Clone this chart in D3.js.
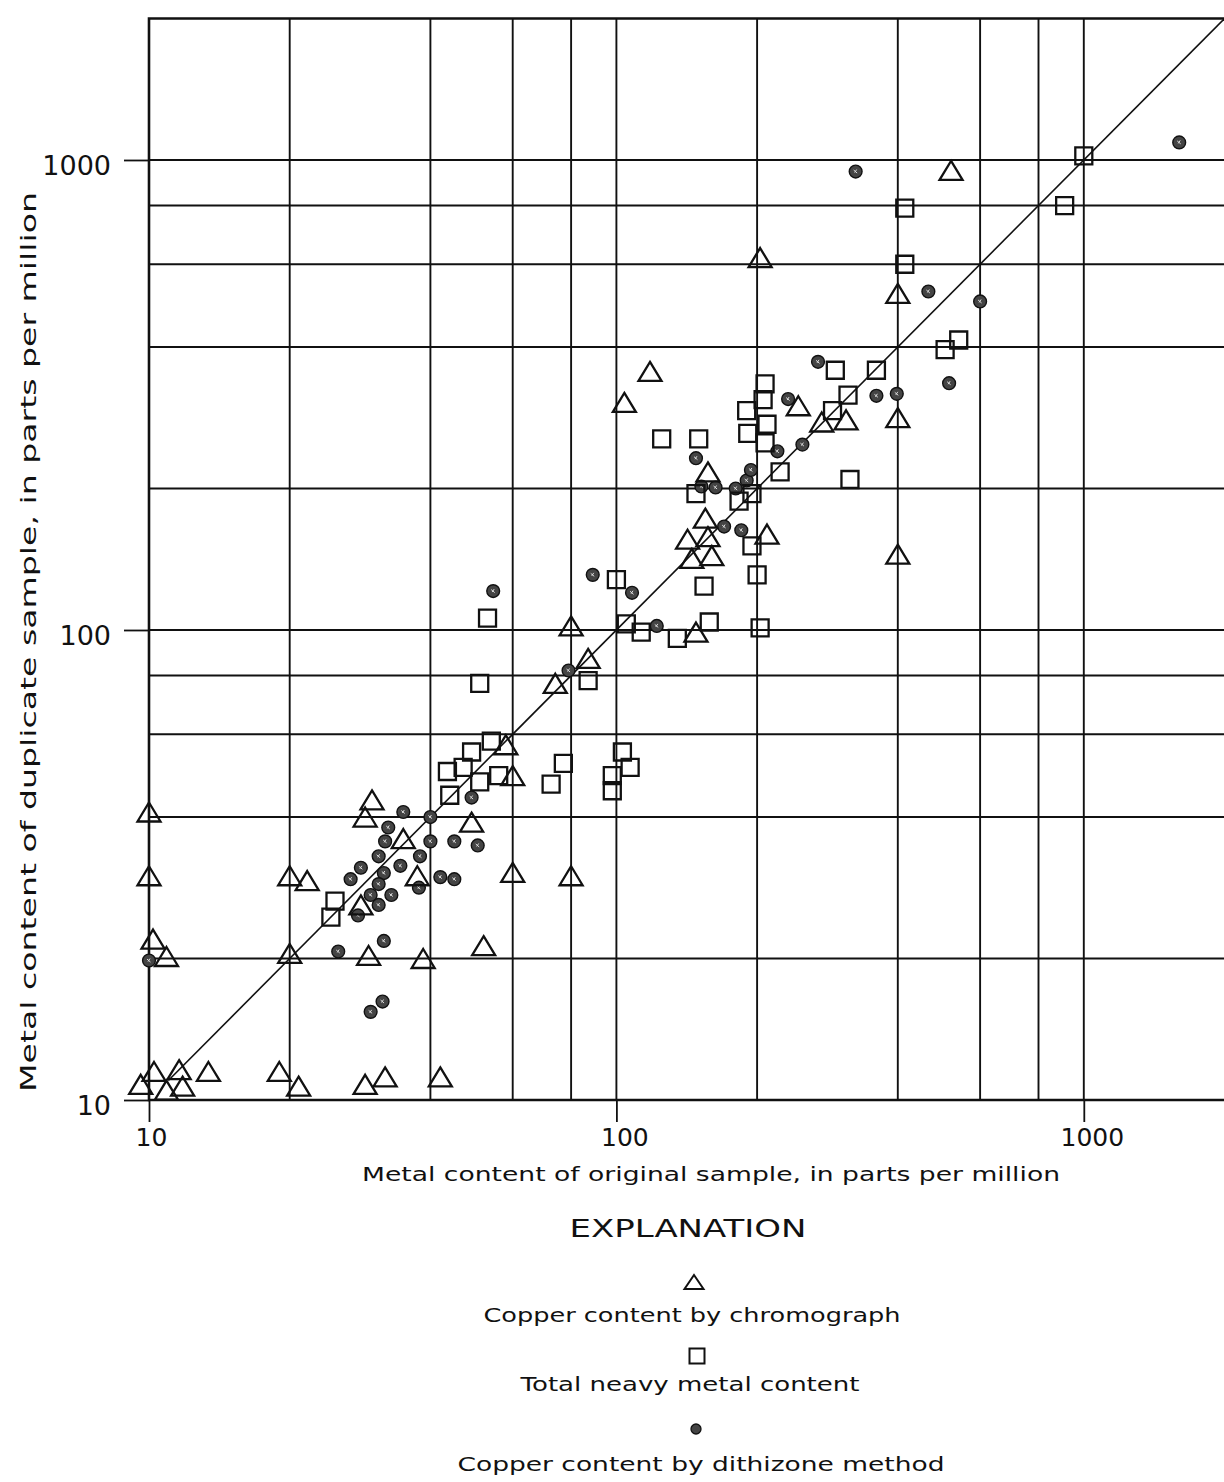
<!DOCTYPE html>
<html>
<head>
<meta charset="utf-8">
<script src="https://cdn.jsdelivr.net/npm/d3@7"></script>
<style>
  html, body { margin: 0; padding: 0; background: #fff; }
  svg { display: block; }
  text { font-family: "DejaVu Sans", "Liberation Sans", sans-serif; fill: #111; }
</style>
</head>
<body>
<svg id="chart" width="1224" height="1482"></svg>
<script>
// Duplicate-sample comparison, log-log, values in parts per million.
// Each pair is [original sample, duplicate sample].

// Copper content by chromograph (triangles)
const chromographCu = [
  [520, 950], [203, 620], [400, 520], [118, 355], [104, 305], [245, 300],
  [400, 283], [310, 280], [275, 277], [210, 160], [400, 145],
  [157, 217], [155, 173], [142, 156], [157, 158], [145, 142], [160, 144],
  [148, 99], [80, 102], [87, 87], [74, 77], [58, 57], [60, 49], [49, 39],
  [35, 36], [37.5, 30], [60, 30.5], [80, 30], [30, 43.5], [29, 40],
  [28.4, 26], [29.5, 20.3], [38.6, 20], [52, 21.3],
  [10, 41], [10, 30], [10.2, 22], [10.9, 20.2], [20, 30], [21.8, 29.3], [20, 20.5],
  [9.6, 10.8], [10.25, 11.5], [11.6, 11.6], [11.8, 10.7], [10.9, 10.5],
  [13.4, 11.5], [19, 11.5], [20.9, 10.7], [29, 10.8], [32, 11.2], [42, 11.2]
];

// Total heavy metal content (squares)
const totalHeavyMetal = [
  [1000, 1020], [910, 800], [414, 790], [414, 600], [505, 395], [540, 414],
  [360, 357], [294, 357], [313, 316], [290, 293],
  [208, 334], [206, 309], [190, 293], [210, 274], [191, 262], [208, 250],
  [224, 217], [316, 209], [125, 255], [150, 255], [148, 195], [183, 188],
  [195, 195], [195, 151], [200, 131], [154, 124], [100, 128], [158, 104],
  [105, 103], [113, 99], [135, 96], [203, 101],
  [53, 106], [51, 77], [87, 78], [103, 55], [107, 51], [98, 49], [98, 45.5],
  [77, 52], [72.5, 47], [54, 58], [49, 55], [47, 51], [43.5, 50], [51, 47.5],
  [56, 49], [44, 44.5], [25, 26.5], [24.5, 24.5]
];

// Copper content by dithizone method (dots)
const dithizoneCu = [
  [1600, 1090], [325, 945], [465, 525], [600, 500], [515, 335], [360, 315],
  [398, 318], [233, 310], [270, 372], [250, 248], [221, 240], [148, 232],
  [152, 202], [163, 201], [180, 200], [190, 208], [194, 219], [170, 166],
  [185, 163], [89, 131], [108, 120], [122, 102], [54.5, 121], [79, 82],
  [40, 40], [49, 44], [35, 41], [40, 35.5], [45, 35.5], [50.5, 34.8],
  [38, 33], [34.5, 31.5], [42, 29.8], [45, 29.5], [37.8, 28.3], [32.5, 38],
  [32, 35.5], [31, 33], [28.4, 31.2], [27, 29.5], [31.8, 30.4], [31, 28.8],
  [29.8, 27.3], [33, 27.3], [31, 26], [28, 24.7], [31.8, 21.8], [25.4, 20.7],
  [31.6, 16.2], [29.8, 15.4], [10, 19.8]
];

// Line of equal values
const equalityLine = [[11, 11], [2000, 2000]];

// Grid and tick values
const xGridValues = [20, 40, 60, 80, 100, 200, 400, 600, 800, 1000];
const yGridValues = [20, 40, 60, 80, 100, 200, 400, 600, 800, 1000];
const xTickValues = [10, 100, 1000];
const yTickValues = [10, 100, 1000];

// Text
const xTitle = "Metal content of original sample, in parts per million";
const yTitle = "Metal content of duplicate sample, in parts per million";
const legendHeading = "EXPLANATION";
const legendLabels = [
  "Copper content by chromograph",
  "Total neavy metal content",
  "Copper content by dithizone method"
];

const svg = d3.select("#chart");
svg.append("rect").attr("width", 1224).attr("height", 1482).attr("fill", "#fff");

const x = d3.scaleLog().domain([10, 2000]).range([149, 1224.5]);
const y = d3.scaleLog().domain([10, 2000]).range([1100, 18.5]);

const [x0, x1] = x.range();
const [y0, y1] = y.range();

// grid
const grid = svg.append("g").attr("stroke", "#111").attr("stroke-width", 1.9);
grid.selectAll("line.gx").data(xGridValues).join("line")
  .attr("class", "gx")
  .attr("x1", d => x(d)).attr("x2", d => x(d))
  .attr("y1", y1).attr("y2", y0);
grid.selectAll("line.gy").data(yGridValues).join("line")
  .attr("class", "gy")
  .attr("x1", x0).attr("x2", x1)
  .attr("y1", d => y(d)).attr("y2", d => y(d));

// frame (top, left, bottom)
svg.append("path")
  .attr("d", `M${x1},${y1} L${x0},${y1} L${x0},${y0} L${x1},${y0}`)
  .attr("fill", "none").attr("stroke", "#111").attr("stroke-width", 2.6);

// axes
const xAxis = svg.append("g")
  .attr("transform", `translate(0,${y0})`)
  .call(d3.axisBottom(x).tickValues(xTickValues).tickSize(22).tickPadding(6)
    .tickFormat(d3.format("d")));
xAxis.select(".domain").remove();
xAxis.selectAll(".tick line").attr("stroke", "#111").attr("stroke-width", 1.8);
xAxis.selectAll(".tick text")
  .attr("font-size", 25).attr("fill", "#111")
  .attr("dx", d => d >= 100 ? 8 : 2)
  .style("font-family", '"DejaVu Sans", sans-serif');

const yAxis = svg.append("g")
  .attr("transform", `translate(${x0},0)`)
  .call(d3.axisLeft(y).tickValues(yTickValues).tickSize(25).tickPadding(13)
    .tickFormat(d3.format("d")));
yAxis.select(".domain").remove();
yAxis.selectAll(".tick line").attr("stroke", "#111").attr("stroke-width", 1.8);
yAxis.selectAll(".tick text")
  .attr("font-size", 27).attr("fill", "#111").attr("dy", "0.55em")
  .style("font-family", '"DejaVu Sans", sans-serif');

// line of equal values
svg.append("path")
  .datum(equalityLine)
  .attr("d", d3.line().x(d => x(d[0])).y(d => y(d[1])))
  .attr("fill", "none").attr("stroke", "#111").attr("stroke-width", 1.6);

// marker shapes
const triPath = (w, h) => `M0,${-h / 2} L${w / 2},${h / 2} L${-w / 2},${h / 2} Z`;
const sqPath = s => `M${-s / 2},${-s / 2} H${s / 2} V${s / 2} H${-s / 2} Z`;

const marks = svg.append("g");

marks.selectAll("circle.dot").data(dithizoneCu).join("circle")
  .attr("class", "dot")
  .attr("cx", d => x(d[0])).attr("cy", d => y(d[1]))
  .attr("r", 6.4)
  .attr("fill", "#444").attr("stroke", "#111").attr("stroke-width", 1.4);
marks.selectAll("path.dotmark").data(dithizoneCu).join("path")
  .attr("class", "dotmark")
  .attr("transform", d => `translate(${x(d[0])},${y(d[1])})`)
  .attr("d", "M-2,-1.5 L1.5,1.5 M1,-2 L-1,1")
  .attr("stroke", "#ddd").attr("stroke-width", 1).attr("fill", "none");

marks.selectAll("path.sq").data(totalHeavyMetal).join("path")
  .attr("class", "sq")
  .attr("transform", d => `translate(${x(d[0])},${y(d[1])})`)
  .attr("d", sqPath(17))
  .attr("fill", "none").attr("stroke", "#111").attr("stroke-width", 2.3);

marks.selectAll("path.tri").data(chromographCu).join("path")
  .attr("class", "tri")
  .attr("transform", d => `translate(${x(d[0])},${y(d[1])})`)
  .attr("d", triPath(23, 19))
  .attr("fill", "none").attr("stroke", "#111").attr("stroke-width", 2.3)
  .attr("stroke-linejoin", "miter");

// axis titles
svg.append("text")
  .attr("x", 711).attr("y", 1181)
  .attr("text-anchor", "middle").attr("font-size", 19)
  .attr("textLength", 698).attr("lengthAdjust", "spacingAndGlyphs")
  .text(xTitle);

svg.append("text")
  .attr("transform", "translate(36,642) rotate(-90)")
  .attr("text-anchor", "middle").attr("font-size", 22)
  .attr("textLength", 900).attr("lengthAdjust", "spacingAndGlyphs")
  .text(yTitle);

// explanation
svg.append("text")
  .attr("x", 688).attr("y", 1237)
  .attr("text-anchor", "middle").attr("font-size", 25)
  .attr("textLength", 237).attr("lengthAdjust", "spacingAndGlyphs")
  .text(legendHeading);

const legendItems = [
  { shape: "tri", cx: 694, cy: 1282, label: legendLabels[0], lx: 692, ly: 1322, len: 417 },
  { shape: "sq", cx: 697, cy: 1356, label: legendLabels[1], lx: 690, ly: 1391, len: 339 },
  { shape: "dot", cx: 696, cy: 1429, label: legendLabels[2], lx: 701, ly: 1471, len: 487 }
];
const legend = svg.append("g");
legendItems.forEach(it => {
  const g = legend.append("g");
  if (it.shape === "tri") {
    g.append("path").attr("transform", `translate(${it.cx},${it.cy})`)
      .attr("d", triPath(19, 14))
      .attr("fill", "none").attr("stroke", "#111").attr("stroke-width", 2);
  } else if (it.shape === "sq") {
    g.append("path").attr("transform", `translate(${it.cx},${it.cy})`)
      .attr("d", sqPath(15))
      .attr("fill", "none").attr("stroke", "#111").attr("stroke-width", 2);
  } else {
    g.append("circle").attr("cx", it.cx).attr("cy", it.cy).attr("r", 5)
      .attr("fill", "#444").attr("stroke", "#111").attr("stroke-width", 1.3);
  }
  g.append("text")
    .attr("x", it.lx).attr("y", it.ly)
    .attr("text-anchor", "middle").attr("font-size", 20)
    .attr("textLength", it.len).attr("lengthAdjust", "spacingAndGlyphs")
    .text(it.label);
});
</script>
</body>
</html>
